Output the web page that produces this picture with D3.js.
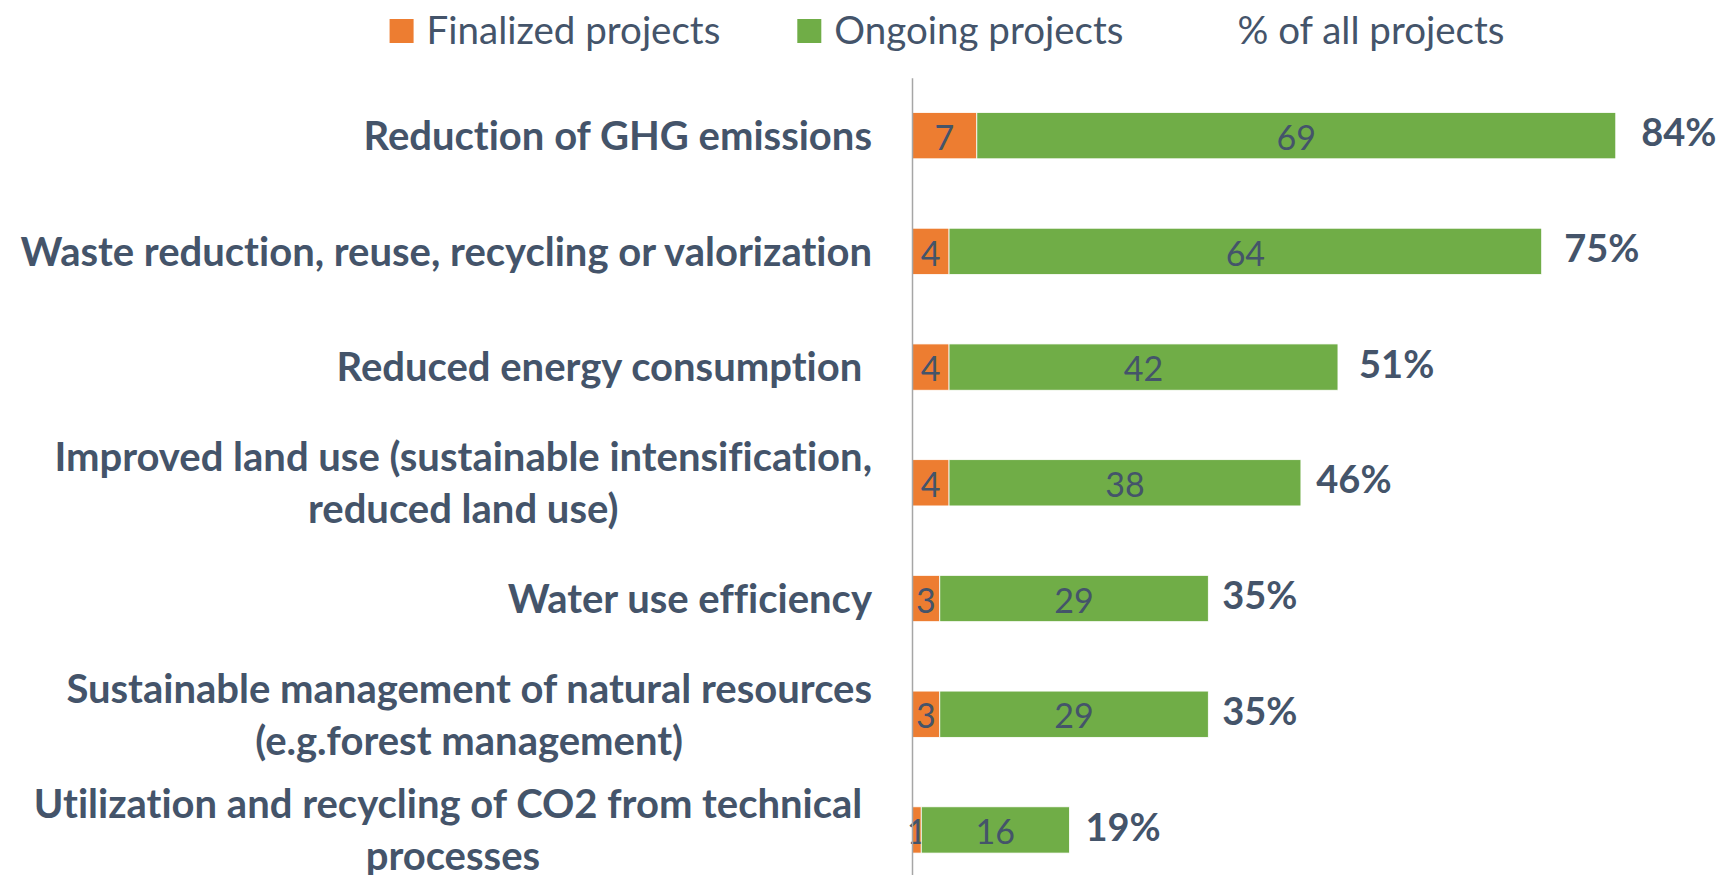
<!DOCTYPE html>
<html>
<head>
<meta charset="utf-8">
<script src="https://cdn.jsdelivr.net/npm/d3@7"></script>
<style>
  html, body { margin: 0; padding: 0; background: #fff; }
  svg { display: block; }
  text { white-space: pre; font-family: Lato, "Open Sans", sans-serif; font-variant-ligatures: none; font-feature-settings: "liga" 0; }
</style>
</head>
<body>
<svg id="chart" width="1716" height="875"></svg>
<script>
// ---- data ----
const categories = [
  "Reduction of GHG emissions",
  "Waste reduction, reuse, recycling or valorization",
  "Reduced energy consumption ",
  "Improved land use (sustainable intensification,\nreduced land use)",
  "Water use efficiency",
  "Sustainable management of natural resources\n(e.g.forest management)",
  "Utilization and recycling of CO2 from technical \nprocesses"
];
const finalized = [7, 4, 4, 4, 3, 3, 1];
const ongoing = [69, 64, 42, 38, 29, 29, 16];
const pctAll = [84, 75, 51, 46, 35, 35, 19];
const seriesNames = ["Finalized projects", "Ongoing projects", "% of all projects"];
const seriesColors = ["#ED7D31", "#70AD47", "none"];

// ---- layout ----
const W = 1716, H = 875;
const textColor = "#44546A";
const svg = d3.select("#chart");

const rows = categories.map((c, i) => ({ cat: c, fin: finalized[i], ong: ongoing[i], pct: pctAll[i] }));

const y = d3.scaleBand()
  .domain(categories)
  .range([77.8, 887.8])
  .paddingInner(0.6)
  .paddingOuter(0.3);

const x = d3.scaleLinear().domain([0, 80]).range([912, 1652.8]);
const xPct = d3.scaleLinear().domain([0, 100]).range([923, 1778]);

const stack = d3.stack().keys(["fin", "ong"]);
const stacked = stack(rows);

// bars
const layers = svg.append("g").selectAll("g")
  .data(stacked)
  .join("g")
  .attr("fill", (d, i) => seriesColors[i]);

layers.selectAll("rect")
  .data(d => d)
  .join("rect")
  .attr("x", d => x(d[0]))
  .attr("y", d => y(d.data.cat))
  .attr("width", d => x(d[1]) - x(d[0]))
  .attr("height", y.bandwidth())
  .attr("stroke", "#ffffff")
  .attr("stroke-width", 0.8);

// value labels
layers.selectAll("text")
  .data(d => d.map(v => ({ v, key: d.key })))
  .join("text")
  .attr("x", d => (x(d.v[0]) + x(d.v[1])) / 2)
  .attr("y", d => y(d.v.data.cat) + y.bandwidth() / 2 + 2)
  .attr("dy", "0.36em")
  .attr("text-anchor", "middle")
  .attr("fill", textColor)
  .attr("font-size", 34)
  .text(d => d.v.data[d.key]);

// axis (vertical line)
const axisG = svg.append("g")
  .attr("transform", `translate(${x(0)},0)`)
  .call(d3.axisLeft(y).tickSize(0).tickFormat(""));
axisG.select(".domain").attr("stroke", "#A6A6A6").attr("stroke-width", 1.5);
axisG.selectAll(".tick").remove();

// percentage labels
svg.append("g").selectAll("text")
  .data(rows)
  .join("text")
  .attr("x", d => xPct(d.pct))
  .attr("y", d => y(d.cat) + y.bandwidth() / 2 - 3)
  .attr("dy", "0.36em")
  .attr("fill", textColor)
  .attr("font-size", 38)
  .attr("font-weight", "bold")
  .text(d => d.pct + "%");

// category labels
const labelRight = 872;
const lineH = 52;
const catG = svg.append("g");
rows.forEach(d => {
  const lines = d.cat.split("\n");
  const cy = y(d.cat) + y.bandwidth() / 2;
  const g = catG.append("g");
  const ts = lines.map((ln, i) => g.append("text")
    .attr("y", cy + (i - (lines.length - 1) / 2) * lineH)
    .attr("dy", "0.36em")
    .attr("fill", textColor)
    .attr("font-size", 40)
    .attr("font-weight", "bold")
    .text(ln));
  if (lines.length === 1) {
    ts[0].attr("x", labelRight).attr("text-anchor", "end");
  } else {
    const maxW = d3.max(ts, t => t.node().getComputedTextLength());
    ts.forEach(t => t.attr("x", labelRight - maxW / 2).attr("text-anchor", "middle"));
  }
});

// legend
const legend = svg.append("g");
const sq = 24, gapSq = 13, gapItem = 77;
let cx = 0;
seriesNames.forEach((name, i) => {
  const item = legend.append("g").attr("transform", `translate(${cx},0)`);
  item.append("rect").attr("x", 0).attr("y", 19).attr("width", sq).attr("height", sq)
    .attr("fill", seriesColors[i]);
  const t = item.append("text")
    .attr("x", sq + gapSq)
    .attr("y", 30)
    .attr("dy", "0.36em")
    .attr("fill", textColor)
    .attr("font-size", 38.5)
    .text(name);
  cx += sq + gapSq + t.node().getComputedTextLength() + gapItem;
});
const legW = cx - gapItem;
legend.attr("transform", `translate(${947 - legW / 2},0)`);
</script>
</body>
</html>
